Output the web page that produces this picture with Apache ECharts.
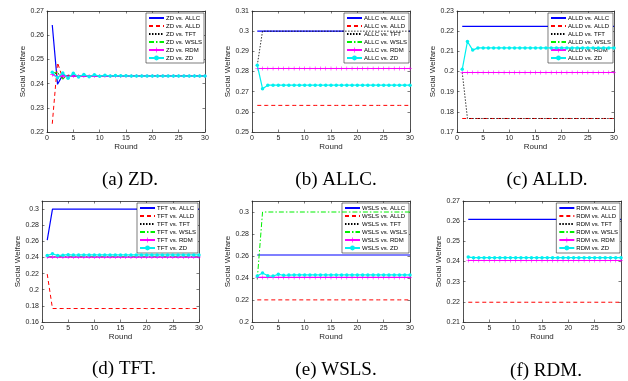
<!DOCTYPE html>
<html><head><meta charset="utf-8">
<script src="https://cdn.jsdelivr.net/npm/echarts@6/dist/echarts.min.js"></script>
<style>html,body{margin:0;padding:0;background:#fff}#c{width:628px;height:381px}</style>
</head><body><div id="c"></div>
<script>
// ---------- DATA ----------
const rounds = [1,2,3,4,5,6,7,8,9,10,11,12,13,14,15,16,17,18,19,20,21,22,23,24,25,26,27,28,29,30];
const opponents = ['ALLC','ALLD','TFT','WSLS','RDM','ZD'];
const players = ['ZD','ALLC','ALLD','TFT','WSLS','RDM'];
const captions = ['(a) ZD.','(b) ALLC.','(c) ALLD.','(d) TFT.','(e) WSLS.','(f) RDM.'];
const xRange = [0, 30, 5];
const yMin = [0.22, 0.25, 0.17, 0.16, 0.20, 0.21];
const yMax = [0.27, 0.31, 0.23, 0.31, 0.31, 0.27];
const yStep = [0.01, 0.01, 0.01, 0.02, 0.02, 0.01];

// (a) ZD
const zdVsALLC = [0.2642,0.2397,0.2436,0.2430,0.2432,0.2431,0.2431,0.2431,0.2431,0.2431,
  0.2431,0.2431,0.2431,0.2431,0.2431,0.2431,0.2431,0.2431,0.2431,0.2431,
  0.2431,0.2431,0.2431,0.2431,0.2431,0.2431,0.2431,0.2431,0.2431,0.2431];
const zdVsALLD = [0.2234,0.2487,0.2420,0.2434,0.2430,0.2432,0.2431,0.2431,0.2431,0.2431,
  0.2431,0.2431,0.2431,0.2431,0.2431,0.2431,0.2431,0.2431,0.2431,0.2431,
  0.2431,0.2431,0.2431,0.2431,0.2431,0.2431,0.2431,0.2431,0.2431,0.2431];
const zdVsTFT = [0.2437,0.2445,0.2424,0.2434,0.2430,0.2432,0.2431,0.2431,0.2431,0.2431,
  0.2431,0.2431,0.2431,0.2431,0.2431,0.2431,0.2431,0.2431,0.2431,0.2431,
  0.2431,0.2431,0.2431,0.2431,0.2431,0.2431,0.2431,0.2431,0.2431,0.2431];
const zdVsWSLS = [0.2445,0.2445,0.2418,0.2436,0.2429,0.2432,0.2431,0.2431,0.2431,0.2431,
  0.2431,0.2431,0.2431,0.2431,0.2431,0.2431,0.2431,0.2431,0.2431,0.2431,
  0.2431,0.2431,0.2431,0.2431,0.2431,0.2431,0.2431,0.2431,0.2431,0.2431];
const zdVsRDM = [0.2437,0.2428,0.2432,0.2430,0.2431,0.2431,0.2431,0.2431,0.2431,0.2431,
  0.2431,0.2431,0.2431,0.2431,0.2431,0.2431,0.2431,0.2431,0.2431,0.2431,
  0.2431,0.2431,0.2431,0.2431,0.2431,0.2431,0.2431,0.2431,0.2431,0.2431];
const zdVsZD = [0.2447,0.2424,0.2444,0.2422,0.2443,0.2427,0.2438,0.2428,0.2437,0.2430,
  0.2435,0.2431,0.2433,0.2432,0.2432,0.2431,0.2431,0.2431,0.2431,0.2431,
  0.2431,0.2431,0.2431,0.2431,0.2431,0.2431,0.2431,0.2431,0.2431,0.2431];

// (b) ALLC
const allcVsALLC = [0.3,0.3,0.3,0.3,0.3,0.3,0.3,0.3,0.3,0.3,
  0.3,0.3,0.3,0.3,0.3,0.3,0.3,0.3,0.3,0.3,
  0.3,0.3,0.3,0.3,0.3,0.3,0.3,0.3,0.3,0.3];
const allcVsALLD = [0.2632,0.2632,0.2632,0.2632,0.2632,0.2632,0.2632,0.2632,0.2632,0.2632,
  0.2632,0.2632,0.2632,0.2632,0.2632,0.2632,0.2632,0.2632,0.2632,0.2632,
  0.2632,0.2632,0.2632,0.2632,0.2632,0.2632,0.2632,0.2632,0.2632,0.2632];
const allcVsTFT = [0.2831,0.3,0.3,0.3,0.3,0.3,0.3,0.3,0.3,0.3,
  0.3,0.3,0.3,0.3,0.3,0.3,0.3,0.3,0.3,0.3,
  0.3,0.3,0.3,0.3,0.3,0.3,0.3,0.3,0.3,0.3];
const allcVsWSLS = [0.2815,0.2815,0.2815,0.2815,0.2815,0.2815,0.2815,0.2815,0.2815,0.2815,
  0.2815,0.2815,0.2815,0.2815,0.2815,0.2815,0.2815,0.2815,0.2815,0.2815,
  0.2815,0.2815,0.2815,0.2815,0.2815,0.2815,0.2815,0.2815,0.2815,0.2815];
const allcVsRDM = [0.2815,0.2815,0.2815,0.2815,0.2815,0.2815,0.2815,0.2815,0.2815,0.2815,
  0.2815,0.2815,0.2815,0.2815,0.2815,0.2815,0.2815,0.2815,0.2815,0.2815,
  0.2815,0.2815,0.2815,0.2815,0.2815,0.2815,0.2815,0.2815,0.2815,0.2815];
const allcVsZD = [0.2831,0.2715,0.2732,0.2732,0.2732,0.2732,0.2732,0.2732,0.2732,0.2732,
  0.2732,0.2732,0.2732,0.2732,0.2732,0.2732,0.2732,0.2732,0.2732,0.2732,
  0.2732,0.2732,0.2732,0.2732,0.2732,0.2732,0.2732,0.2732,0.2732,0.2732];

// (c) ALLD
const alldVsALLC = [0.2224,0.2224,0.2224,0.2224,0.2224,0.2224,0.2224,0.2224,0.2224,0.2224,
  0.2224,0.2224,0.2224,0.2224,0.2224,0.2224,0.2224,0.2224,0.2224,0.2224,
  0.2224,0.2224,0.2224,0.2224,0.2224,0.2224,0.2224,0.2224,0.2224,0.2224];
const alldVsALLD = [0.1767,0.1767,0.1767,0.1767,0.1767,0.1767,0.1767,0.1767,0.1767,0.1767,
  0.1767,0.1767,0.1767,0.1767,0.1767,0.1767,0.1767,0.1767,0.1767,0.1767,
  0.1767,0.1767,0.1767,0.1767,0.1767,0.1767,0.1767,0.1767,0.1767,0.1767];
const alldVsTFT = [0.1995,0.1767,0.1767,0.1767,0.1767,0.1767,0.1767,0.1767,0.1767,0.1767,
  0.1767,0.1767,0.1767,0.1767,0.1767,0.1767,0.1767,0.1767,0.1767,0.1767,
  0.1767,0.1767,0.1767,0.1767,0.1767,0.1767,0.1767,0.1767,0.1767,0.1767];
const alldVsWSLS = [0.1995,0.1995,0.1995,0.1995,0.1995,0.1995,0.1995,0.1995,0.1995,0.1995,
  0.1995,0.1995,0.1995,0.1995,0.1995,0.1995,0.1995,0.1995,0.1995,0.1995,
  0.1995,0.1995,0.1995,0.1995,0.1995,0.1995,0.1995,0.1995,0.1995,0.1995];
const alldVsRDM = [0.1995,0.1995,0.1995,0.1995,0.1995,0.1995,0.1995,0.1995,0.1995,0.1995,
  0.1995,0.1995,0.1995,0.1995,0.1995,0.1995,0.1995,0.1995,0.1995,0.1995,
  0.1995,0.1995,0.1995,0.1995,0.1995,0.1995,0.1995,0.1995,0.1995,0.1995];
const alldVsZD = [0.2011,0.2149,0.2106,0.2117,0.2117,0.2117,0.2117,0.2117,0.2117,0.2117,
  0.2117,0.2117,0.2117,0.2117,0.2117,0.2117,0.2117,0.2117,0.2117,0.2117,
  0.2117,0.2117,0.2117,0.2117,0.2117,0.2117,0.2117,0.2117,0.2117,0.2117];

// (d) TFT
const tftVsALLC = [0.2615,0.3,0.3,0.3,0.3,0.3,0.3,0.3,0.3,0.3,
  0.3,0.3,0.3,0.3,0.3,0.3,0.3,0.3,0.3,0.3,
  0.3,0.3,0.3,0.3,0.3,0.3,0.3,0.3,0.3,0.3];
const tftVsALLD = [0.2194,0.1767,0.1767,0.1767,0.1767,0.1767,0.1767,0.1767,0.1767,0.1767,
  0.1767,0.1767,0.1767,0.1767,0.1767,0.1767,0.1767,0.1767,0.1767,0.1767,
  0.1767,0.1767,0.1767,0.1767,0.1767,0.1767,0.1767,0.1767,0.1767,0.1767];
const tftVsTFT = [0.2405,0.2405,0.2405,0.2405,0.2405,0.2405,0.2405,0.2405,0.2405,0.2405,
  0.2405,0.2405,0.2405,0.2405,0.2405,0.2405,0.2405,0.2405,0.2405,0.2405,
  0.2405,0.2405,0.2405,0.2405,0.2405,0.2405,0.2405,0.2405,0.2405,0.2405];
const tftVsWSLS = [0.2410,0.2410,0.2410,0.2410,0.2410,0.2410,0.2410,0.2410,0.2410,0.2410,
  0.2410,0.2410,0.2410,0.2410,0.2410,0.2410,0.2410,0.2410,0.2410,0.2410,
  0.2410,0.2410,0.2410,0.2410,0.2410,0.2410,0.2410,0.2410,0.2410,0.2410];
const tftVsRDM = [0.2405,0.2405,0.2405,0.2405,0.2405,0.2405,0.2405,0.2405,0.2405,0.2405,
  0.2405,0.2405,0.2405,0.2405,0.2405,0.2405,0.2405,0.2405,0.2405,0.2405,
  0.2405,0.2405,0.2405,0.2405,0.2405,0.2405,0.2405,0.2405,0.2405,0.2405];
const tftVsZD = [0.2425,0.2445,0.2425,0.2428,0.2435,0.2430,0.2432,0.2432,0.2432,0.2432,
  0.2432,0.2432,0.2432,0.2432,0.2432,0.2432,0.2432,0.2432,0.2432,0.2432,
  0.2432,0.2432,0.2432,0.2432,0.2432,0.2432,0.2432,0.2432,0.2432,0.2432];

// (e) WSLS
const wslsVsALLC = [0.2609,0.2609,0.2609,0.2609,0.2609,0.2609,0.2609,0.2609,0.2609,0.2609,
  0.2609,0.2609,0.2609,0.2609,0.2609,0.2609,0.2609,0.2609,0.2609,0.2609,
  0.2609,0.2609,0.2609,0.2609,0.2609,0.2609,0.2609,0.2609,0.2609,0.2609];
const wslsVsALLD = [0.2201,0.2201,0.2201,0.2201,0.2201,0.2201,0.2201,0.2201,0.2201,0.2201,
  0.2201,0.2201,0.2201,0.2201,0.2201,0.2201,0.2201,0.2201,0.2201,0.2201,
  0.2201,0.2201,0.2201,0.2201,0.2201,0.2201,0.2201,0.2201,0.2201,0.2201];
const wslsVsTFT = [0.2405,0.2405,0.2405,0.2405,0.2405,0.2405,0.2405,0.2405,0.2405,0.2405,
  0.2405,0.2405,0.2405,0.2405,0.2405,0.2405,0.2405,0.2405,0.2405,0.2405,
  0.2405,0.2405,0.2405,0.2405,0.2405,0.2405,0.2405,0.2405,0.2405,0.2405];
const wslsVsWSLS = [0.2387,0.3,0.3,0.3,0.3,0.3,0.3,0.3,0.3,0.3,
  0.3,0.3,0.3,0.3,0.3,0.3,0.3,0.3,0.3,0.3,
  0.3,0.3,0.3,0.3,0.3,0.3,0.3,0.3,0.3,0.3];
const wslsVsRDM = [0.2405,0.2405,0.2405,0.2405,0.2405,0.2405,0.2405,0.2405,0.2405,0.2405,
  0.2405,0.2405,0.2405,0.2405,0.2405,0.2405,0.2405,0.2405,0.2405,0.2405,
  0.2405,0.2405,0.2405,0.2405,0.2405,0.2405,0.2405,0.2405,0.2405,0.2405];
const wslsVsZD = [0.2418,0.2445,0.2420,0.2418,0.2433,0.2425,0.2427,0.2428,0.2428,0.2428,
  0.2428,0.2428,0.2428,0.2428,0.2428,0.2428,0.2428,0.2428,0.2428,0.2428,
  0.2428,0.2428,0.2428,0.2428,0.2428,0.2428,0.2428,0.2428,0.2428,0.2428];

// (f) RDM
const rdmVsALLC = [0.2609,0.2609,0.2609,0.2609,0.2609,0.2609,0.2609,0.2609,0.2609,0.2609,
  0.2609,0.2609,0.2609,0.2609,0.2609,0.2609,0.2609,0.2609,0.2609,0.2609,
  0.2609,0.2609,0.2609,0.2609,0.2609,0.2609,0.2609,0.2609,0.2609,0.2609];
const rdmVsALLD = [0.2198,0.2198,0.2198,0.2198,0.2198,0.2198,0.2198,0.2198,0.2198,0.2198,
  0.2198,0.2198,0.2198,0.2198,0.2198,0.2198,0.2198,0.2198,0.2198,0.2198,
  0.2198,0.2198,0.2198,0.2198,0.2198,0.2198,0.2198,0.2198,0.2198,0.2198];
const rdmVsTFT = [0.2405,0.2405,0.2405,0.2405,0.2405,0.2405,0.2405,0.2405,0.2405,0.2405,
  0.2405,0.2405,0.2405,0.2405,0.2405,0.2405,0.2405,0.2405,0.2405,0.2405,
  0.2405,0.2405,0.2405,0.2405,0.2405,0.2405,0.2405,0.2405,0.2405,0.2405];
const rdmVsWSLS = [0.2405,0.2405,0.2405,0.2405,0.2405,0.2405,0.2405,0.2405,0.2405,0.2405,
  0.2405,0.2405,0.2405,0.2405,0.2405,0.2405,0.2405,0.2405,0.2405,0.2405,
  0.2405,0.2405,0.2405,0.2405,0.2405,0.2405,0.2405,0.2405,0.2405,0.2405];
const rdmVsRDM = [0.2405,0.2405,0.2405,0.2405,0.2405,0.2405,0.2405,0.2405,0.2405,0.2405,
  0.2405,0.2405,0.2405,0.2405,0.2405,0.2405,0.2405,0.2405,0.2405,0.2405,
  0.2405,0.2405,0.2405,0.2405,0.2405,0.2405,0.2405,0.2405,0.2405,0.2405];
const rdmVsZD = [0.2422,0.2419,0.2419,0.2419,0.2419,0.2419,0.2419,0.2419,0.2419,0.2419,
  0.2419,0.2419,0.2419,0.2419,0.2419,0.2419,0.2419,0.2419,0.2419,0.2419,
  0.2419,0.2419,0.2419,0.2419,0.2419,0.2419,0.2419,0.2419,0.2419,0.2419];

const panelValues = [
  [zdVsALLC, zdVsALLD, zdVsTFT, zdVsWSLS, zdVsRDM, zdVsZD],
  [allcVsALLC, allcVsALLD, allcVsTFT, allcVsWSLS, allcVsRDM, allcVsZD],
  [alldVsALLC, alldVsALLD, alldVsTFT, alldVsWSLS, alldVsRDM, alldVsZD],
  [tftVsALLC, tftVsALLD, tftVsTFT, tftVsWSLS, tftVsRDM, tftVsZD],
  [wslsVsALLC, wslsVsALLD, wslsVsTFT, wslsVsWSLS, wslsVsRDM, wslsVsZD],
  [rdmVsALLC, rdmVsALLD, rdmVsTFT, rdmVsWSLS, rdmVsRDM, rdmVsZD]
];

// ---------- LAYOUT / STYLE ----------
const W = 628;
const layout = [
  {l:47, t:11, w:158, h:121, cx:130, cy:180},
  {l:252, t:11, w:158, h:121, cx:336, cy:180},
  {l:457, t:11, w:157, h:121, cx:547, cy:180},
  {l:42, t:201, w:157, h:121, cx:124, cy:369},
  {l:252, t:201, w:158, h:121, cx:336, cy:370},
  {l:463, t:201, w:158, h:121, cx:546, cy:371}
];
const plusPath = 'path://M0,4.3L10,4.3L10,5.7L0,5.7ZM4.3,0L5.7,0L5.7,10L4.3,10Z';
const styles = [
  {color:'#0000ff', type:'solid', width:1.2, symbol:'none', size:0},
  {color:'#ff0000', type:[4,3], width:1, symbol:'none', size:0},
  {color:'#000000', type:[1.5,1.5], width:0.8, symbol:'none', size:0},
  {color:'#00f000', type:[5,2,1.5,2], width:1, symbol:'none', size:0},
  {color:'#ff00ff', type:'solid', width:1.2, symbol:plusPath, size:4},
  {color:'#00f0f0', type:'solid', width:1.2, symbol:'circle', size:3.5}
];
const FONT = '"Liberation Sans", Arial, sans-serif';
const AX = '#262626';

const grid = [], xAxis = [], yAxis = [], series = [], legend = [], graphic = [];
layout.forEach((g, i) => {
  grid.push({left:g.l, top:g.t, width:g.w, height:g.h, containLabel:false});
  const common = {axisLine:{show:true, onZero:false, lineStyle:{color:AX, width:0.8}},
    axisTick:{show:true, inside:true, length:2.5, lineStyle:{color:AX, width:0.6}},
    splitLine:{show:false}};
  xAxis.push(Object.assign({type:'value', gridIndex:i, position:'bottom', min:xRange[0], max:xRange[1], interval:xRange[2],
    axisLabel:{fontSize:7, color:AX, margin:3, fontFamily:FONT},
    name:'Round', nameLocation:'middle', nameGap:11, nameTextStyle:{fontSize:8, color:AX, fontFamily:FONT}}, common));
  xAxis.push(Object.assign({type:'value', gridIndex:i, position:'top', min:xRange[0], max:xRange[1], interval:xRange[2],
    axisLabel:{show:false}}, common));
  yAxis.push(Object.assign({type:'value', gridIndex:i, position:'left', min:yMin[i], max:yMax[i], interval:yStep[i],
    axisLabel:{fontSize:7, color:AX, margin:3, fontFamily:FONT, showMaxLabel: (i===3||i===4)?false:true},
    name:'Social Welfare', nameLocation:'middle', nameGap:17, nameTextStyle:{fontSize:8, color:AX, fontFamily:FONT}}, common));
  yAxis.push(Object.assign({type:'value', gridIndex:i, position:'right', min:yMin[i], max:yMax[i], interval:yStep[i],
    axisLabel:{show:false}}, common));
  const names = opponents.map(o => players[i] + ' vs. ' + o);
  names.forEach((nm, k) => {
    const s = styles[k];
    series.push({
      type:'line', name:nm, xAxisIndex:2*i, yAxisIndex:2*i,
      data: rounds.map((r, j) => [r, panelValues[i][k][j]]),
      symbol:s.symbol, symbolSize:s.size, showSymbol:s.symbol!=='none',
      lineStyle:{color:s.color, type:s.type, width:s.width},
      itemStyle:{color:s.color},
      emphasis:{disabled:true}, silent:true, animation:false, z:2+k
    });
  });
  legend.push({
    data:names.map((nm, k) => styles[k].symbol === 'none'
      ? {name:nm, itemStyle:{opacity:0}} : {name:nm}),
    orient:'vertical', right: W - (g.l + g.w) + 1, top: g.t + 2,
    backgroundColor:'#ffffff', borderColor:AX, borderWidth:0.6, padding:[2,2,2,2],
    itemGap:2, itemWidth:15, itemHeight:6, selectedMode:false,
    textStyle:{fontSize:6, color:'#000', fontFamily:FONT, padding:[0,0,0,-3]}
  });
  graphic.push({type:'text', x:g.cx, y:g.cy, style:{text:captions[i], font:'19px "Liberation Serif", "Times New Roman", serif',
    fill:'#000', textAlign:'center', textVerticalAlign:'middle', verticalAlign:'middle'}});
});

const chart = echarts.init(document.getElementById('c'), null, {renderer:'canvas'});
chart.setOption({animation:false, backgroundColor:'#fff', grid, xAxis, yAxis, series, legend, graphic});
</script></body></html>
